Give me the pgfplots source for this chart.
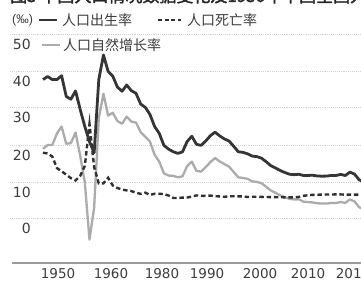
\documentclass[border=0pt]{standalone}
\usepackage{pgfplots}
\pgfplotsset{compat=1.18}
\usepackage{pgfplotstable}
\usepackage{fontspec}
\setmainfont{DejaVu Sans}
\newfontfamily\cjk[AutoFakeBold=2]{Noto Sans CJK SC}
\newfontfamily\lib{Liberation Sans}
\definecolor{birthc}{HTML}{353535}
\definecolor{deathc}{HTML}{303030}
\definecolor{ngc}{HTML}{ABABAB}
\definecolor{labc}{HTML}{3C3C3C}
\definecolor{gridc}{HTML}{D2D2D2}
\definecolor{basec}{HTML}{9A9A9A}

\pgfplotstableread{
year birth death ng
1950 37.00 18.00 19.00
1951 37.80 17.80 20.00
1952 37.00 17.00 20.00
1953 37.00 14.00 23.00
1954 38.00 13.18 24.79
1955 32.60 12.28 20.32
1956 31.90 11.40 20.50
1957 34.03 10.80 23.23
1958 29.22 11.98 17.24
1959 24.78 14.59 10.19
1960 20.86 25.43 -4.57
1961 18.02 14.24 3.78
1962 37.01 10.02 26.99
1963 43.37 10.04 33.33
1964 39.14 11.50 27.64
1965 37.88 9.50 28.38
1966 35.05 8.83 26.22
1967 33.96 8.43 25.53
1968 35.59 8.21 27.38
1969 34.11 8.03 26.08
1970 33.43 7.60 25.83
1971 30.65 7.32 23.33
1972 29.77 7.61 22.16
1973 27.93 7.04 20.89
1974 24.82 7.34 17.48
1975 23.01 7.32 15.69
1976 19.91 7.25 12.66
1977 18.93 6.87 12.06
1978 18.25 6.25 12.00
1979 17.82 6.21 11.61
1980 18.21 6.34 11.87
1981 20.91 6.36 14.55
1982 22.28 6.60 15.68
1983 20.19 6.90 13.29
1984 19.90 6.82 13.08
1985 21.04 6.78 14.26
1986 22.43 6.86 15.57
1987 23.33 6.72 16.61
1988 22.37 6.64 15.73
1989 21.58 6.54 15.04
1990 21.06 6.67 14.39
1991 19.68 6.70 12.98
1992 18.24 6.64 11.60
1993 18.09 6.64 11.45
1994 17.70 6.49 11.21
1995 17.12 6.57 10.55
1996 16.98 6.56 10.42
1997 16.57 6.51 10.06
1998 15.64 6.50 9.14
1999 14.64 6.46 8.18
2000 14.03 6.45 7.58
2001 13.38 6.43 6.95
2002 12.86 6.41 6.45
2003 12.41 6.40 6.01
2004 12.29 6.42 5.87
2005 12.40 6.51 5.89
2006 12.09 6.81 5.28
2007 12.10 6.93 5.17
2008 12.14 7.06 5.08
2009 11.95 7.08 4.87
2010 11.90 7.11 4.79
2011 11.93 7.14 4.79
2012 12.10 7.15 4.95
2013 12.08 7.16 4.92
2014 12.37 7.16 5.21
2015 12.07 7.11 4.96
2016 12.95 7.09 5.86
2017 12.43 7.11 5.32
2018 10.94 7.13 3.81
2019 10.48 7.14 3.34
}\datatable

\begin{document}
\begin{tikzpicture}[x=1pt,y=1pt]
\begin{axis}[
  at={(10pt,19pt)}, anchor=south west,
  x=4.65pt, y=3.85pt,
  xmin=1942.903, xmax=2018.387,
  ymin=-10.65, ymax=52,
  enlargelimits=false,
  axis line style={draw=none},
  tick style={draw=none},
  major tick length=0pt,
  /pgf/number format/assume math mode=true,
  ytick={1.04,10.39,20,29.87,39.2,48.8},
  yticklabels={0,10,20,30,40,50},
  xtick={1953.23,1964.62,1975.59,1985.27,1996.67,2006.99,2016.67},
  xticklabels={1950,1960,1980,1990,2000,2010,2018},
  ymajorgrids,
  grid style={gridc, line width=0.9pt, densely dotted},
  yticklabel style={anchor=east, inner sep=0pt, xshift=21pt, yshift=-10pt,
    font=\fontsize{14}{14}\selectfont, text=labc},
  xticklabel style={anchor=north, inner sep=0pt, yshift=-5pt,
    font=\fontsize{13.5}{14}\selectfont, text=labc},
]
\addplot[ngc, line width=2.3pt, line join=round] table[x=year, y=ng] {\datatable};
\addplot[deathc, line width=2.4pt, dash pattern=on 4.5pt off 2.8pt] table[x=year, y=death] {\datatable};
\addplot[birthc, line width=2.8pt, line join=round] table[x=year, y=birth] {\datatable};
\end{axis}
% baseline
\draw[basec, line width=2.4pt] (12,19) -- (361,19);
% title (cut at the top)
\node[anchor=base west, inner sep=0pt, text=black!85,
  font=\cjk\fontsize{17}{17}\selectfont\bfseries] at (10,280)
  {图5 中国人口情况数据变化及1950年中国全国人口};
% legend row 1
\node[anchor=west, inner sep=0pt, text=labc, font=\lib\fontsize{12.5}{13}\selectfont] at (12,262) {(‰)};
\draw[birthc, line width=2.6pt] (39,262) -- (57,262);
\node[anchor=west, inner sep=0pt, text=labc, font=\cjk\fontsize{14}{14}\selectfont] at (62,262) {人口出生率};
\draw[deathc, line width=2.2pt, dash pattern=on 4pt off 2.6pt] (158,262) -- (181,262);
\node[anchor=west, inner sep=0pt, text=labc, font=\cjk\fontsize{14}{14}\selectfont] at (187,262) {人口死亡率};
% legend row 2
\draw[ngc, line width=2.2pt] (42,237) -- (60,237);
\node[anchor=west, inner sep=0pt, text=labc, font=\cjk\fontsize{14}{14}\selectfont] at (63,237) {人口自然增长率};
\pgfresetboundingbox
\path[use as bounding box] (0,0) rectangle (361,282);
\end{tikzpicture}
\end{document}
